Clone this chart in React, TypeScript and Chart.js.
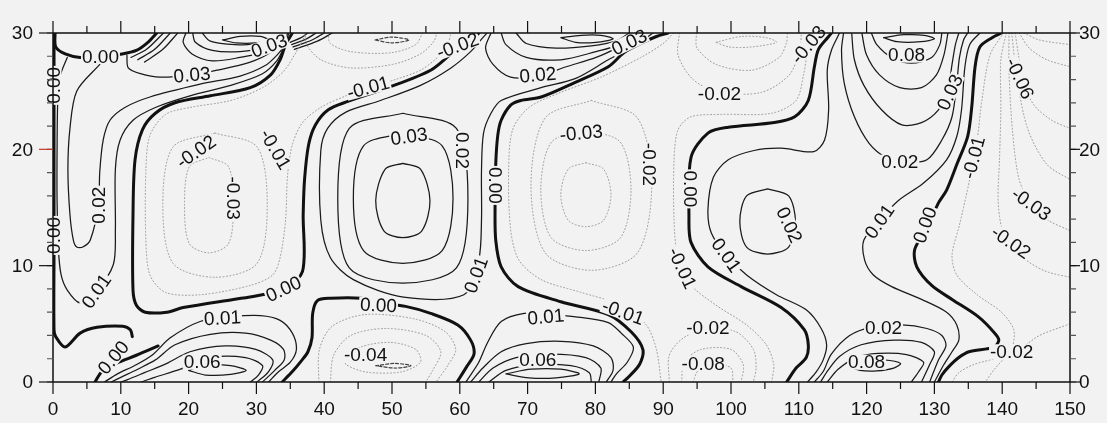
import React, { useEffect, useRef } from "react";
import { Chart, registerables } from "chart.js";
Chart.register(...registerables);

type P = [number, number];

const xTicks = [0, 10, 20, 30, 40, 50, 60, 70, 80, 90, 100, 110, 120, 130, 140, 150];
const yTicks = [0, 10, 20, 30];

// ---- zero contours (thick) ----
const zA: P[] = [[0.15,30],[0.15,20],[0.15,11],[0.15,4.5],[0.4,3.9],[1.8,3.0],[4.0,4.2],[6.5,4.7],[10.3,4.8],[11.4,4.5],[11.7,3.9]];
const zA2: P[] = [[0.3,30],[0.4,28.8],[1.8,28.2],[4.0,27.9],[7.0,28.0],[10.2,28.2],[12.3,28.5],[14.0,29.2],[15.3,30]];
const zB: P[] = [[35.3,30],[34.3,29.0],[33.5,27.7],[32.1,26.4],[29.1,25.3],[23.2,24.6],[18.0,24.0],[15.1,23.1],[13.2,21.7],[12.1,19.1],[11.8,14.4],[11.8,7.9],[12.3,6.6],[13.6,6.0],[16.8,6.0],[19.2,6.4],[26.6,7.1],[29.9,7.4],[34.0,8.0],[36.8,9.5],[36.9,14.4],[37.1,17.4],[37.7,20.4],[38.7,22.1],[40.6,23.4],[43.4,24.1],[49.4,25.3],[55.7,26.8],[59.1,28.4],[61.6,29.4],[62.8,30]];
const zB1: P[] = [[6.2,0],[7.2,0.9],[9.3,1.6],[12.3,2.3],[15.5,3.1]];
const zC: P[] = [[33.8,0],[35.3,0.9],[36.6,1.8],[37.6,2.6],[38.2,3.8],[38.3,5.9],[39.0,7.0],[40.9,7.2],[45.4,7.2],[48.0,6.8],[52.0,6.5],[55.7,5.9],[59.7,4.9],[61.6,3.6],[62.1,2.4],[61.0,1.3],[59.6,0]];
const zD: P[] = [[90.7,30],[89.0,29.7],[86.7,29.1],[84.2,28.3],[81.9,27.1],[76.8,25.7],[72.0,24.5],[69.0,24.2],[67.5,23.8],[66.1,22.5],[65.6,21.2],[65.3,18.7],[65.2,14.8],[65.3,12.2],[66.1,9.9],[68.6,8.2],[74.9,6.9],[81.9,5.8],[85.3,4.3],[87.0,2.8],[86.5,1.5],[85.0,0.5],[84.1,0]];
const zE: P[] = [[114.8,30],[114.4,29.7],[112.9,28.6],[112.3,27.1],[111.4,24.2],[109.4,22.8],[106.4,22.3],[99.6,21.9],[96.6,21.4],[94.1,19.3],[93.8,14.2],[94.1,12.0],[96.6,9.9],[101.5,8.2],[107.4,6.4],[110.8,4.5],[111.4,3.2],[111.1,2.1],[109.6,1.2],[108.2,0]];
const zF: P[] = [[139.9,30],[138.5,29.6],[136.7,28.8],[136.0,27.1],[135.5,23.6],[134.9,21.1],[133.3,18.7],[131.8,16.5],[130.6,15.4],[128.9,13.2],[127.1,11.4],[127.4,9.9],[129.6,8.3],[132.6,7.1],[136.5,5.6],[138.9,4.2],[139.5,3.6],[138.8,3.0],[135.1,2.6],[133.6,2.1],[132.1,1.3],[131.1,0.6],[130.6,0]];

// ---- positive contours (thin solid) ----
const p1_01: P[] = [[2.1,27.9],[1.0,26.2],[0.7,24.2],[0.6,19.9],[0.6,15.6],[0.8,11.4],[1.2,9.2],[2.1,7.9],[4.0,6.8],[6.4,7.8],[8.9,10.1],[9.2,13.1],[9.2,18.3],[9.9,20.8],[11.8,22.5],[15.1,23.6],[20.2,24.6],[26.2,25.5],[30.9,26.5],[33.0,27.6],[34.0,28.7],[34.8,30]];
const p1_02: P[] = [[6.9,27.3],[3.5,25.0],[2.5,21.8],[2.2,18.2],[2.5,14.4],[3.0,12.2],[3.5,11.6],[4.4,11.6],[5.5,12.2],[6.7,15.2],[6.9,18.1],[7.4,20.8],[8.4,22.5],[10.6,23.6],[14.3,24.5],[21.7,25.6],[27.6,26.3],[31.3,27.2],[33.2,28.2],[34.1,28.9],[34.6,30]];
const p1_03: P[] = [[10.9,28.1],[11.1,27.0],[12.9,26.5],[15.8,26.2],[20.5,26.4],[24.2,26.8],[29.1,27.5],[32.0,28.3],[33.4,29.2],[34.2,30]];
const h1: P[] = [[11.5,27.9],[13.8,28.6],[16.3,30]];
const h2: P[] = [[12.5,27.7],[15.0,28.6],[17.3,30]];
const h3: P[] = [[13.5,27.5],[16.2,28.6],[18.4,30]];
const tb1_a: P[] = [[19.6,30],[19.2,29.2],[20.5,28.2],[23.5,27.6],[27.6,27.9],[32.1,28.5],[33.9,29.3]];
const tb1_b: P[] = [[20.6,30],[21.0,29.2],[23.5,28.5],[27.6,28.4],[31.5,28.8],[33.6,29.5]];
const tb1_c: P[] = [[22.0,30],[23.2,29.3],[26.9,29.0],[30.5,29.1],[33.2,29.7]];
const tb1_d: P[] = [[25.0,29.4],[27.6,29.7],[30.6,29.7],[31.8,29.4],[29.9,29.15],[27.0,29.15],[25.0,29.4]];
const rb1: P[] = [[35.0,29.2],[36.6,29.6],[37.6,30]];
const rb2: P[] = [[35.2,29.0],[37.4,29.5],[38.8,30]];
const rb3: P[] = [[35.4,28.8],[38.2,29.4],[40.0,30]];
const rb4: P[] = [[35.6,28.6],[39.0,29.3],[41.2,30]];
const bb1_01: P[] = [[7.6,0],[9.5,0.7],[12.0,1.4],[14.6,2.3],[17.3,3.8],[21.7,5.2],[26.2,5.6],[30.6,5.7],[33.5,5.3],[35.3,4.2],[35.9,2.8],[35.0,1.7],[33.3,0.9],[31.8,0]];
const bb1_02: P[] = [[8.6,0],[10.0,0.4],[12.5,1.1],[15.1,1.9],[18.0,3.2],[23.2,4.1],[28.4,4.2],[32.1,3.6],[34.0,2.8],[34.1,1.9],[32.7,1.0],[30.9,0]];
const bb1_03: P[] = [[10.0,0],[11.0,0.2],[13.5,0.8],[16.8,1.6],[20.2,2.6],[25.4,3.1],[29.9,2.8],[32.4,1.9],[31.8,0.9],[30.1,0]];
const bb1_04: P[] = [[13.0,0],[15.0,0.4],[18.8,1.1],[23.2,2.1],[28.4,2.1],[30.9,1.4],[30.3,0.6],[29.1,0]];
const bb1_05: P[] = [[20.0,1.0],[22.5,1.45],[26.2,1.4],[28.5,1.0],[26.2,0.65],[22.5,0.6],[20.0,1.0]];
const c3_01: P[] = [[64.0,30],[63.4,29.6],[61.6,28.4],[58.7,27.0],[54.2,25.5],[48.3,24.2],[43.2,23.2],[40.5,21.8],[39.5,19.9],[39.5,13.9],[40.9,10.7],[44.3,8.8],[51.7,7.3],[60.6,7.5],[62.8,10.5],[63.2,13.9],[63.2,18.2],[63.5,21.4],[64.6,23.1],[66.1,24.2],[72.0,25.3],[77.1,26.1],[81.9,27.7],[85.3,28.8],[87.5,29.6],[88.5,30]];
const c3_02: P[] = [[51.6,23.1],[59.5,21.8],[61.2,15.8],[59.5,9.8],[51.6,8.5],[43.7,9.8],[42.0,15.8],[43.7,21.8],[51.6,23.1]];
const c3_03: P[] = [[51.6,21.4],[57.4,20.3],[59.0,15.8],[57.4,11.3],[51.6,10.2],[45.8,11.3],[44.3,15.8],[45.8,20.3],[51.6,21.4]];
const c3_04: P[] = [[51.6,18.8],[54.2,18.3],[55.6,15.6],[54.4,13.0],[51.6,12.4],[48.8,13.0],[47.6,15.6],[49.0,18.3],[51.6,18.8]];
const tb2_02: P[] = [[64.6,30],[63.8,28.7],[64.9,27.3],[67.5,26.2],[71.5,26.3],[75.7,27.1],[80.1,27.9],[83.1,28.7],[85.0,29.4],[87.0,30]];
const tb2_03: P[] = [[66.1,30],[66.8,29.0],[69.8,27.9],[74.9,27.7],[80.1,28.4],[83.5,29.0],[86.0,30]];
const tb2_04: P[] = [[68.3,30],[69.8,29.1],[74.2,28.7],[79.4,28.9],[83.0,29.3],[85.0,30]];
const tb2_05: P[] = [[74.9,29.6],[77.9,29.8],[80.8,29.8],[82.6,29.5],[80.1,29.2],[77.1,29.2],[74.9,29.6]];
const bb2_01: P[] = [[60.9,0],[62.8,1.7],[64.1,3.4],[66.1,5.2],[69.5,5.9],[72.7,5.8],[77.1,5.6],[81.9,5.1],[83.8,4.2],[85.6,3.0],[84.7,1.7],[83.1,0.7],[82.3,0]];
const bb2_02: P[] = [[61.6,0],[63.4,1.2],[66.1,2.6],[69.8,3.3],[74.9,3.5],[79.7,3.1],[82.3,2.1],[82.6,1.0],[81.6,0]];
const bb2_03: P[] = [[62.8,0],[64.9,1.2],[68.3,2.1],[73.4,2.4],[78.6,2.1],[80.8,1.2],[80.5,0]];
const bb2_04: P[] = [[64.3,0],[66.8,1.0],[71.2,1.5],[76.4,1.4],[79.1,0.8],[79.4,0]];
const bb2_05: P[] = [[66.8,0.7],[70.5,1.1],[74.9,1.1],[77.6,0.7],[74.2,0.35],[70.2,0.35],[66.8,0.7]];
const c5_01: P[] = [[116.0,30],[114.8,28.5],[114.2,26.8],[114.4,23.4],[113.8,20.8],[112.2,19.8],[107.4,20.1],[103.4,19.9],[99.6,19.1],[97.4,17.6],[96.6,14.8],[97.1,12.8],[99.3,10.9],[102.3,9.2],[106.7,7.5],[111.1,6.2],[113.3,4.6],[114.1,3.2],[113.6,1.9],[112.6,0.9],[111.3,0]];
const c5_02: P[] = [[105.4,16.6],[108.5,16.0],[109.5,13.8],[108.5,11.6],[105.4,11.0],[102.3,11.6],[101.3,13.8],[102.3,16.0],[105.4,16.6]];
const c6_01: P[] = [[136.7,30],[135.2,29.0],[134.5,27.1],[134.0,23.4],[133.3,21.1],[131.8,19.1],[128.4,17.1],[124.7,15.6],[121.9,13.9],[119.6,12.2],[119.7,10.5],[121.0,9.2],[123.7,8.2],[128.1,7.1],[131.8,6.0],[133.3,4.9],[133.6,3.6],[132.6,2.6],[131.4,1.5],[130.0,0]];
const u1: P[] = [[116.6,30],[116.3,28.5],[116.7,25.7],[118.2,22.8],[120.4,20.5],[122.9,19.3],[125.9,18.9],[128.9,19.1],[131.1,20.8],[132.6,22.8],[133.3,25.7],[133.7,27.9],[134.3,29.4],[134.9,30]];
const u2: P[] = [[117.8,30],[118.2,27.7],[119.6,25.5],[122.2,23.4],[125.2,22.1],[128.1,22.3],[130.6,23.4],[132.0,25.1],[132.6,27.3],[133.1,29.0],[133.6,30]];
const u3: P[] = [[119.3,30],[120.0,28.1],[121.9,26.4],[124.9,25.3],[128.1,25.3],[130.3,26.4],[131.4,28.1],[132.0,30]];
const u4: P[] = [[120.7,30],[121.5,29.0],[123.7,27.9],[126.6,27.4],[129.6,27.9],[130.8,29.0],[131.1,30]];
const u5: P[] = [[122.5,29.6],[125.5,29.85],[128.5,29.8],[130.0,29.5],[128.0,29.25],[124.5,29.25],[122.5,29.6]];
const bb3_02: P[] = [[112.3,0],[113.6,0.9],[114.8,2.4],[117.5,4.0],[120.7,4.7],[125.2,4.9],[128.9,4.6],[131.1,4.0],[131.7,3.1],[130.6,1.9],[129.3,0]];
const bb3_03: P[] = [[113.2,0],[114.3,1.0],[116.0,2.2],[119.2,3.2],[124.1,3.6],[128.1,3.4],[130.0,2.6],[129.3,1.5],[128.1,0]];
const bb3_04: P[] = [[114.2,0],[115.8,1.1],[118.5,2.1],[121.7,2.45],[125.9,2.35],[128.4,1.7],[127.7,0.9],[126.6,0]];
const bb3_05: P[] = [[117.3,1.35],[119.0,1.0],[121.5,0.95],[124.0,1.2],[125.0,1.6],[122.5,1.9],[119.5,1.85],[117.3,1.35]];

// ---- negative contours (dotted) ----
const n2_01: P[] = [[37.2,29.8],[35.9,28.4],[34.0,26.7],[30.9,25.3],[26.2,24.2],[20.2,23.6],[16.6,23.0],[14.3,21.2],[13.7,18.2],[13.7,12.2],[14.3,9.2],[16.6,7.7],[21.7,7.5],[29.1,8.3],[32.4,9.2],[33.5,10.7],[34.3,13.9],[34.6,17.8],[35.3,20.4],[36.8,22.3],[39.5,23.6],[43.2,24.6],[46.5,25.3],[50.5,26.0],[54.2,26.8],[56.7,27.9],[58.2,29.0],[58.7,30]];
const n2_02: P[] = [[23.9,21.4],[30.1,20.2],[31.6,15.2],[30.1,10.2],[23.9,9.0],[17.7,10.2],[16.2,15.2],[17.7,20.2],[23.9,21.4]];
const n2_03: P[] = [[23.0,19.3],[25.9,18.5],[26.6,15.2],[25.9,11.9],[23.0,11.1],[20.1,11.9],[19.4,15.2],[20.1,18.5],[23.0,19.3]];
const tn_a: P[] = [[37.2,30],[37.4,29.0],[39.5,27.7],[43.9,27.0],[50.1,27.3],[54.2,28.2],[56.2,29.3],[56.6,30]];
const tn_b: P[] = [[40.6,30],[40.9,29.1],[43.9,28.4],[49.8,28.3],[53.5,29.0],[54.5,30]];
const bn_a: P[] = [[39.2,0],[39.3,2.8],[41.2,4.8],[46.1,5.8],[53.5,5.4],[57.9,4.3],[59.4,2.8],[58.2,1.4],[56.5,0]];
const bn_b: P[] = [[40.9,0],[41.4,2.3],[43.9,4.0],[49.1,4.6],[55.0,4.0],[57.2,2.6],[56.0,1.0],[55.0,0]];
const bn_c: P[] = [[43.2,1.9],[45.4,3.0],[49.8,3.4],[53.5,2.8],[54.2,1.7],[51.3,0.86],[46.1,0.86],[43.2,1.5],[43.2,1.9]];
const n4_01a: P[] = [[91.5,30],[90.0,29.1],[86.7,27.9],[80.8,26.2],[74.9,24.9],[70.2,23.6],[67.8,21.7],[67.2,18.2],[67.5,13.1],[68.7,10.5],[72.0,8.8],[77.9,7.7],[83.8,6.6],[87.5,4.9],[89.0,2.8],[89.7,0]];
const n4_01b: P[] = [[106.0,0],[106.3,1.5],[105.2,3.2],[102.3,4.9],[97.8,6.6],[93.8,8.5],[92.1,10.9],[91.6,13.9],[91.6,19.1],[92.2,21.7],[94.1,22.8],[98.6,23.0],[106.0,23.1],[109.6,24.2],[110.7,26.4],[111.3,28.5],[111.9,30]];
const n4_02: P[] = [[79.4,24.2],[86.2,22.7],[88.3,16.9],[86.2,11.1],[79.4,9.6],[72.6,11.1],[70.5,16.9],[72.6,22.7],[79.4,24.2]];
const n4_03: P[] = [[78.6,21.7],[83.7,20.6],[85.25,16.5],[83.7,12.4],[78.6,11.3],[73.5,12.4],[71.95,16.5],[73.5,20.6],[78.6,21.7]];
const n4_04: P[] = [[78.6,18.85],[81.2,18.3],[82.3,16.1],[81.2,13.9],[78.6,13.35],[76.0,13.9],[74.9,16.1],[76.0,18.3],[78.6,18.85]];
const tn4_a: P[] = [[92.4,30],[92.2,28.1],[94.4,26.0],[98.3,24.9],[104.5,24.9],[108.6,26.4],[110.1,28.5],[110.4,30]];
const tn4_b: P[] = [[94.9,30],[95.0,28.7],[97.8,27.3],[103.0,26.8],[107.1,27.9],[108.2,29.2],[108.3,30]];
const bn2_a: P[] = [[90.9,0],[90.9,2.3],[93.0,3.8],[96.6,4.6],[100.8,4.3],[103.3,2.8],[103.7,1.2],[103.3,0]];
const bn2_b: P[] = [[92.7,0],[93.1,1.7],[95.6,2.8],[100.0,2.8],[101.8,1.5],[101.5,0]];
const bn2_c: P[] = [[94.4,0],[95.2,1.0],[97.8,1.5],[100.0,1.2],[100.3,0]];
const f1: P[] = [[140.2,30],[138.2,28.1],[137.0,24.2],[136.3,20.8],[135.2,17.4],[133.7,13.5],[132.6,10.9],[133.3,9.2],[136.3,7.5],[139.9,6.0],[141.7,4.5],[141.4,3.0],[139.2,2.1],[135.8,1.5],[133.6,0.8],[132.6,0]];
const f2: P[] = [[140.6,30],[139.8,27.7],[139.8,23.4],[139.6,19.1],[139.4,15.6],[140.0,13.1],[141.3,12.0],[143.5,10.5],[146.5,9.5],[150,9.0]];
const f3: P[] = [[141.0,30],[141.0,26.8],[141.5,21.7],[142.5,17.4],[144.3,15.3],[146.5,14.0],[150,13.0]];
const f4: P[] = [[141.4,30],[142.2,26.0],[143.8,21.7],[146.6,18.7],[150,17.4]];
const f6: P[] = [[141.9,30],[142.4,28.1],[142.9,26.0],[144.7,23.8],[147.3,22.5],[150,21.8]];
const f7: P[] = [[142.5,30],[144.0,28.7],[146.6,27.7],[150,27.1]];
const f8: P[] = [[143.2,30],[145.5,29.4],[150,29.0]];
const f9: P[] = [[150,5.0],[145.5,4.0],[143.0,3.0],[141.4,2.6],[139.0,1.2],[137.5,0]];

// ---- small inner negative cores (dark dashes) ----
const tn_c: P[] = [[47.5,29.4],[50.0,29.65],[52.5,29.4],[50.0,29.15],[47.5,29.4]];
const bn_d: P[] = [[47.6,1.4],[50.5,1.6],[52.8,1.4],[50.5,1.2],[47.6,1.4]];
const tn4_c: P[] = [[97.8,29.2],[101.5,29.7],[105.2,29.6],[106.7,29.2],[103.0,28.8],[99.7,28.8],[97.8,29.2]];

const zeroLines = [zA, zA2, zB, zB1, zC, zD, zE, zF];
const posLines = [p1_01, p1_02, p1_03, h1, h2, h3, tb1_a, tb1_b, tb1_c, tb1_d, rb1, rb2, rb3, rb4,
  bb1_01, bb1_02, bb1_03, bb1_04, bb1_05, c3_01, c3_02, c3_03, c3_04, tb2_02, tb2_03, tb2_04, tb2_05,
  bb2_01, bb2_02, bb2_03, bb2_04, bb2_05, c5_01, c5_02, c6_01, u1, u2, u3, u4, u5, bb3_02, bb3_03, bb3_04, bb3_05];
const negLines = [n2_01, n2_02, n2_03, tn_a, tn_b, bn_a, bn_b, bn_c, n4_01a, n4_01b, n4_02, n4_03, n4_04,
  tn4_a, tn4_b, tn4_c, bn2_a, bn2_b, bn2_c, f1, f2, f3, f4, f6, f7, f8, f9];
const coreLines = [tn_c, bn_d];

// contour labels: text, x, y, rotation (deg)
const labels: [string, number, number, number][] = [
  ["0.00", 7.0, 28.0, 0], ["0.00", 0.15, 25.5, -90], ["0.00", 0.15, 12.6, -90],
  ["0.03", 20.5, 26.4, -5], ["0.03", 31.9, 28.9, -20], ["0.01", 6.4, 7.8, -55],
  ["0.02", 6.7, 15.2, -90], ["-0.02", 21.1, 19.8, -35], ["-0.03", 26.6, 15.8, 90],
  ["-0.01", 32.8, 20.0, 60], ["0.00", 34.0, 8.0, -25], ["-0.01", 46.5, 25.3, -15],
  ["-0.02", 59.7, 28.9, -20], ["0.00", 8.9, 2.1, -50], ["0.06", 22.0, 1.7, 0],
  ["0.01", 25.0, 5.5, -3], ["0.00", 48.0, 6.6, 3], ["-0.04", 46.1, 2.3, 0],
  ["0.03", 52.5, 21.1, -8], ["0.02", 60.4, 19.9, 90], ["0.01", 62.4, 9.2, -70],
  ["0.00", 65.3, 16.9, 90], ["0.02", 71.5, 26.4, -5], ["0.03", 85.0, 29.2, -25],
  ["0.01", 72.7, 5.6, -5], ["0.06", 71.5, 1.9, 0], ["-0.01", 84.1, 6.0, 20],
  ["-0.03", 77.9, 21.4, -5], ["-0.02", 87.9, 18.7, 90], ["-0.02", 98.3, 24.8, 0],
  ["-0.03", 111.4, 29.0, -50], ["0.00", 94.0, 16.6, 90], ["-0.01", 92.8, 9.8, 65],
  ["0.01", 99.3, 10.9, 55], ["0.02", 108.6, 13.5, 65], ["-0.02", 96.6, 4.7, 0],
  ["-0.08", 95.9, 1.6, 0], ["0.08", 125.9, 28.1, 0], ["0.03", 132.3, 24.9, -65],
  ["0.02", 124.9, 18.9, 0], ["-0.01", 135.8, 19.3, -75], ["-0.06", 142.6, 26.1, 65],
  ["0.00", 128.6, 13.5, -70], ["0.01", 121.9, 13.8, -55], ["-0.03", 144.3, 15.3, 35],
  ["-0.02", 141.3, 12.0, 35], ["0.02", 122.5, 4.7, 0], ["0.08", 120.0, 1.7, 0],
  ["-0.02", 141.4, 2.6, 0],
];

const BG = "#f2f2f2";
const FONT = '"Liberation Sans", Arial, sans-serif';

export default function App() {
  const ref = useRef<HTMLCanvasElement | null>(null);

  useEffect(() => {
    const canvas = ref.current;
    if (!canvas) return;
    const mk = (pts: P[], color: string, width: number, dash: number[]) => ({
      data: pts.map((p) => ({ x: p[0], y: p[1] })),
      showLine: true,
      borderColor: color,
      borderWidth: width,
      borderDash: dash,
      borderCapStyle: "round",
      borderJoinStyle: "round",
      pointRadius: 0,
      pointHoverRadius: 0,
      tension: 0.3,
      fill: false,
    });
    const datasets = [
      ...negLines.map((p) => mk(p, "#9a9a9a", 1, [1, 2.4])),
      ...coreLines.map((p) => mk(p, "#444", 1.2, [3, 2])),
      ...posLines.map((p) => mk(p, "#1a1a1a", 1.25, [])),
      ...zeroLines.map((p) => mk(p, "#111", 3, [])),
    ];

    const decor = {
      id: "decor",
      beforeDraw(chart: any) {
        const c = chart.ctx;
        c.save();
        c.fillStyle = BG;
        c.fillRect(0, 0, chart.width, chart.height);
        c.restore();
      },
      afterDatasetsDraw(chart: any) {
        const c = chart.ctx;
        const xs = chart.scales.x;
        const ys = chart.scales.y;
        c.save();
        c.font = `19px ${FONT}`;
        c.textAlign = "center";
        c.textBaseline = "middle";
        for (const [t, x, y, r] of labels) {
          const px = xs.getPixelForValue(x);
          const py = ys.getPixelForValue(y);
          c.save();
          c.translate(px, py);
          c.rotate((r * Math.PI) / 180);
          const w = c.measureText(t).width;
          c.fillStyle = BG;
          c.fillRect(-w / 2 - 1, -7.5, w + 2, 15);
          c.fillStyle = "#111";
          c.fillText(t, 0, 1);
          c.restore();
        }
        c.restore();
      },
      afterDraw(chart: any) {
        const c = chart.ctx;
        const xs = chart.scales.x;
        const ys = chart.scales.y;
        const a = chart.chartArea;
        c.save();
        c.strokeStyle = "#111";
        c.lineWidth = 1.5;
        c.beginPath();
        c.rect(a.left, a.top, a.right - a.left, a.bottom - a.top);
        c.stroke();
        c.lineWidth = 1.2;
        for (let v = 0; v <= 150; v += 5) {
          const px = xs.getPixelForValue(v);
          const len = v % 10 === 0 ? 12 : 7;
          c.beginPath();
          c.moveTo(px, a.bottom);
          c.lineTo(px, a.bottom + len);
          c.moveTo(px, a.top);
          c.lineTo(px, a.top - len);
          c.stroke();
        }
        for (let v = 0; v <= 30; v += 2) {
          const py = ys.getPixelForValue(v);
          c.beginPath();
          c.strokeStyle = "#555";
          c.moveTo(a.left, py);
          c.lineTo(a.left - 6, py);
          c.moveTo(a.right, py);
          c.lineTo(a.right + 6, py);
          c.stroke();
        }
        for (const v of yTicks) {
          const py = ys.getPixelForValue(v);
          c.beginPath();
          c.strokeStyle = v === 20 ? "#c0392b" : "#111";
          c.moveTo(a.left, py);
          c.lineTo(a.left - 14, py);
          c.stroke();
          c.beginPath();
          c.strokeStyle = "#111";
          c.moveTo(a.right, py);
          c.lineTo(a.right + 10, py);
          c.stroke();
        }
        c.fillStyle = "#111";
        c.font = `19px ${FONT}`;
        c.textBaseline = "middle";
        c.textAlign = "center";
        for (const v of xTicks) {
          c.fillText(String(v), xs.getPixelForValue(v), a.bottom + 28);
        }
        c.textAlign = "right";
        for (const v of yTicks) {
          c.fillText(String(v), a.left - 20, ys.getPixelForValue(v) + 1);
        }
        c.textAlign = "left";
        for (const v of yTicks) {
          c.fillText(String(v), a.right + 9, ys.getPixelForValue(v) + 1);
        }
        c.restore();
      },
    };

    const chart = new Chart(canvas, {
      type: "scatter",
      data: { datasets: datasets as any },
      options: {
        responsive: false,
        animation: false,
        events: [],
        layout: { autoPadding: false, padding: { left: 53, right: 37, top: 33, bottom: 41 } } as any,
        plugins: { legend: { display: false }, tooltip: { enabled: false } },
        scales: {
          x: { type: "linear", min: 0, max: 150, display: false },
          y: { type: "linear", min: 0, max: 30, display: false },
        },
      },
      plugins: [decor],
    });
    return () => chart.destroy();
  }, []);

  return (
    <div style={{ position: "fixed", left: 0, top: 0, width: 1107, height: 423, background: BG }}>
      <canvas ref={ref} width={1107} height={423} style={{ display: "block" }} />
    </div>
  );
}
